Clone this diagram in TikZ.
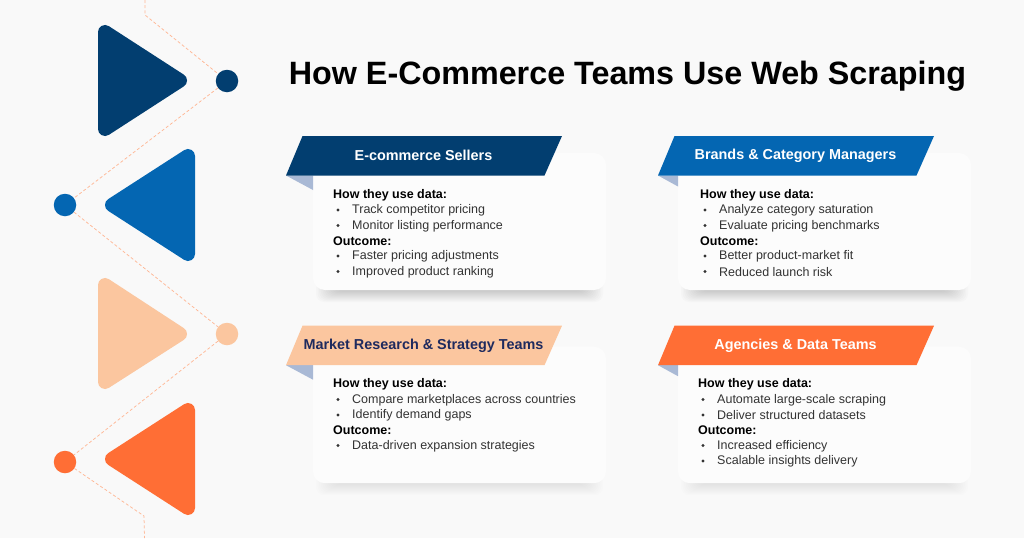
\documentclass[tikz,border=0pt]{standalone}
\usepackage{fontspec}
\setmainfont{Liberation Sans}
\usetikzlibrary{calc}
\definecolor{bgc}{HTML}{F9F9F9}
\definecolor{navy}{HTML}{023E70}
\definecolor{blue}{HTML}{0466B2}
\definecolor{peach}{HTML}{FBC69F}
\definecolor{orangec}{HTML}{FF6E35}
\definecolor{fold}{HTML}{A9B9D5}
\definecolor{dashc}{HTML}{FFB896}
\definecolor{darktitle}{HTML}{1E2A5E}
\definecolor{bodyc}{HTML}{333333}
\definecolor{cardc}{HTML}{FCFCFC}
\tikzset{
 x=1pt,y=-1pt,
 dashline/.style={draw=dashc,line width=.75pt,dash pattern=on 3pt off 2.2pt},
 tri/.style={line join=round,line width=14pt},
 dot/.style={circle,minimum size=22.5pt,inner sep=0pt},
 cardface/.style={fill=cardc,rounded corners=12pt},
 bandtext/.style={font=\fontsize{14.4}{14}\selectfont\bfseries},
 headb/.style={font=\fontsize{12.5}{15}\selectfont\bfseries,anchor=west,text=black,inner sep=0pt},
 item/.style={font=\fontsize{12.5}{15}\selectfont,anchor=west,text=bodyc,inner sep=0pt},
 bul/.style={circle,fill=bodyc,inner sep=0pt,minimum size=3.4pt}
}
\newcommand{\bandcard}[9]{%
 % #1 x offset #2 y offset #3 card bottom #4 shadow opacity #5 text colour #6 title #7 card left #8 name #9 card top
 \begin{scope}[shift={(#1,#2)}]
  \foreach \i in {0,...,11}{
    \fill[black,opacity=#4,rounded corners=8pt] (#7+3+\i*1.6,#3-30) rectangle (#7+290-\i*1.6,#3+12-\i);
  }
  \fill[cardface] (#7,#9) rectangle (#7+293,#3);
  \fill[fold] (0,39.5) -- (#7,39.5) -- (#7,#7*.5+40.5) -- cycle;
  \fill[#8c] (16.5,0) -- (276,0) -- (258.5,39.5) -- (0,39.5) -- cycle;
  \node[bandtext,text=#5] (#8) at (137.5,19.8) {#6};
 \end{scope}}
\newcommand{\itemrow}[5]{% x, y, kind, name, text
  \ifnum#3=0 \node[headb] (#4) at (#1,#2+.8) {#5};
  \else \node[bul] (#4b) at (#1+5,#2+.5) {}; \node[item] (#4) at (#1+19,#2+.8) {#5};\fi}
\colorlet{t1c}{navy}\colorlet{t2c}{blue}\colorlet{t3c}{peach}\colorlet{t4c}{orangec}
\begin{document}
\begin{tikzpicture}
\useasboundingbox (0,0) rectangle (1024,538);
\fill[bgc] (0,0) rectangle (1024,538);
% dotted route
\coordinate (top) at (145,0);
\coordinate (bend1) at (145,15);
\coordinate (bend2) at (144,516);
\coordinate (bot) at (144.500,538);
\node[dot,fill=navy] (d1) at (227,81) {};
\node[dot,fill=blue] (d2) at (65,205) {};
\node[dot,fill=peach] (d3) at (227,334) {};
\node[dot,fill=orangec] (d4) at (65,462) {};
\draw[dashline] (top) -- (bend1) -- (d1);
\draw[dashline] (d1) -- (d2);
\draw[dashline] (d2) -- (d3);
\draw[dashline] (d3) -- (d4);
\draw[dashline] (d4) -- (bend2) -- (bot);
% triangles
\path[fill=navy,draw=navy,tri] (105,32) -- (180,80.5) -- (105,129) -- cycle;
\path[fill=blue,draw=blue,tri] (188,156) -- (112,205) -- (188,254) -- cycle;
\path[fill=peach,draw=peach,tri] (105,285) -- (180,334) -- (105,382) -- cycle;
\path[fill=orangec,draw=orangec,tri] (188,410) -- (112,459) -- (188,508) -- cycle;
\node[font=\fontsize{32.3}{34}\selectfont\bfseries,text=black,anchor=center] (title) at (627.5,76) {How E-Commerce Teams Use Web Scraping};
% cards
\bandcard{286}{136}{154}{.014}{white}{E-commerce Sellers}{27}{t1}{17}
\bandcard{658}{136}{154}{.014}{white}{Brands \& Category Managers}{20}{t2}{17}
\bandcard{286}{325.7}{157.5}{.006}{darktitle}{Market Research \& Strategy Teams}{27}{t3}{21}
\bandcard{658}{325.7}{157.5}{.006}{white}{Agencies \& Data Teams}{20}{t4}{21}
% card 1
\itemrow{333}{194}{0}{a1}{How they use data:}
\itemrow{333}{209.5}{1}{a2}{Track competitor pricing}
\itemrow{333}{225}{1}{a3}{Monitor listing performance}
\itemrow{333}{240}{0}{a4}{Outcome:}
\itemrow{333}{255.5}{1}{a5}{Faster pricing adjustments}
\itemrow{333}{271}{1}{a6}{Improved product ranking}
% card 2
\itemrow{700}{194}{0}{b1}{How they use data:}
\itemrow{700}{209.5}{1}{b2}{Analyze category saturation}
\itemrow{700}{225}{1}{b3}{Evaluate pricing benchmarks}
\itemrow{700}{240}{0}{b4}{Outcome:}
\itemrow{700}{255.5}{1}{b5}{Better product-market fit}
\itemrow{700}{271}{1}{b6}{Reduced launch risk}
% card 3
\itemrow{333}{383.5}{0}{c1}{How they use data:}
\itemrow{333}{399}{1}{c2}{Compare marketplaces across countries}
\itemrow{333}{414.5}{1}{c3}{Identify demand gaps}
\itemrow{333}{429.5}{0}{c4}{Outcome:}
\itemrow{333}{445}{1}{c5}{Data-driven expansion strategies}
% card 4
\itemrow{698}{383.5}{0}{e1}{How they use data:}
\itemrow{698}{399}{1}{e2}{Automate large-scale scraping}
\itemrow{698}{414.5}{1}{e3}{Deliver structured datasets}
\itemrow{698}{429.5}{0}{e4}{Outcome:}
\itemrow{698}{445}{1}{e5}{Increased efficiency}
\itemrow{698}{460.5}{1}{e6}{Scalable insights delivery}
\end{tikzpicture}
\end{document}
